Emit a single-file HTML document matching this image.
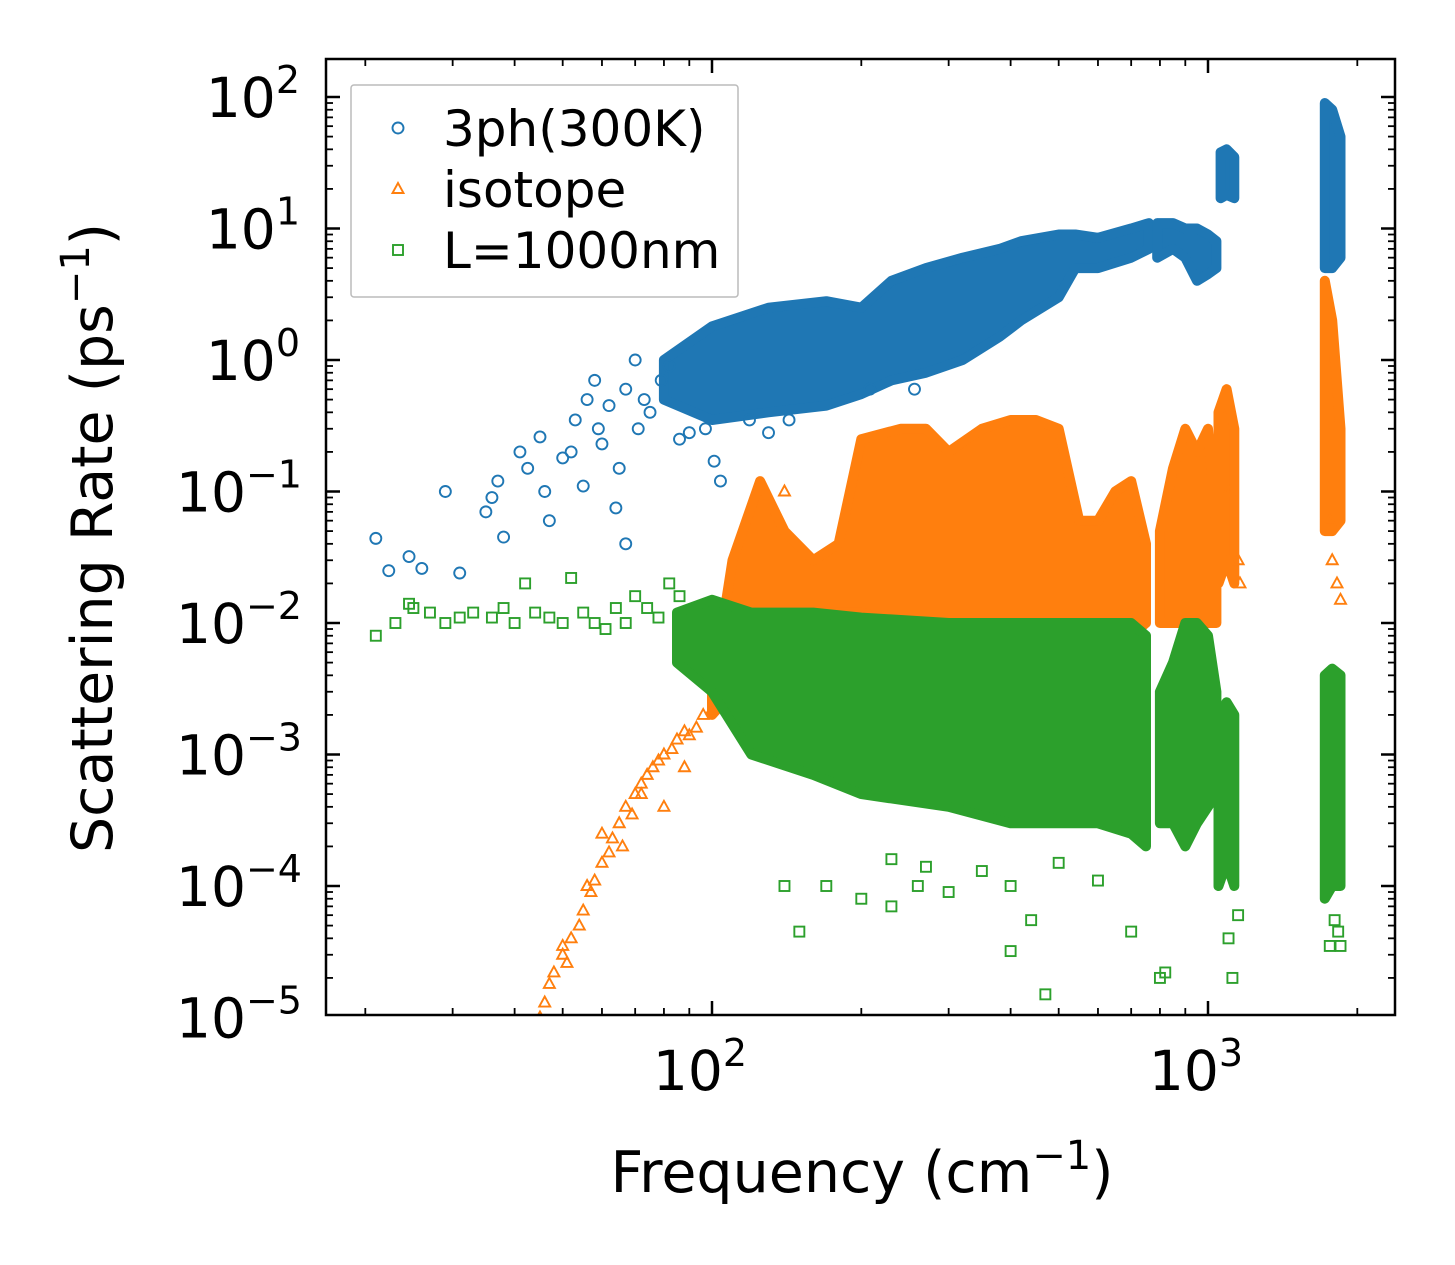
<!DOCTYPE html>
<html><head><meta charset="utf-8"><style>
html,body{margin:0;padding:0;background:#fff;}
svg{display:block;font-family:"DejaVu Sans","Liberation Sans",sans-serif;}
</style></head><body>
<svg id="chart" width="1455" height="1265" viewBox="0 0 1455 1265" xmlns="http://www.w3.org/2000/svg">
<rect x="0" y="0" width="1455" height="1265" fill="#fff"/>
<g id="bands"></g><g id="marks"></g><g id="axes"></g>
</svg>
<script>
// ---- data ----
const blueSparseF=[21,22.3,24.5,26,29,31,35,36,37,38,41,42.5,45,46,50,52,53,56,58,59,62,65,67,70,71,75,79,86,90,97,101,104,119,130,143,208,256,67,64,47,55,60,73,82];
const blueSparseV=[0.044,0.025,0.032,0.026,0.1,0.024,0.07,0.09,0.12,0.045,0.2,0.15,0.26,0.1,0.18,0.2,0.35,0.5,0.7,0.3,0.45,0.15,0.6,1.0,0.3,0.4,0.7,0.25,0.28,0.3,0.17,0.12,0.35,0.28,0.35,0.6,0.6,0.04,0.075,0.06,0.11,0.23,0.5,0.9];
const blueBandF=[[80,100,130,170,200,230,270,320,380,420,500,540,600,700,760],[790,850,900,950,1000,1040],[1060,1090,1130],[1720,1780,1850]];
const blueBandLo=[[0.5,0.35,0.4,0.45,0.55,0.7,0.8,1,1.5,2,3,5,5,6,7],[6,7,6,4,4.5,5],[17,18,17],[5,5,6]];
const blueBandHi=[[1.0,1.8,2.5,2.8,2.5,4,5,6,7,8,9,9,8.5,10,11],[11,11,10,10,9,8],[38,40,35],[90,80,50]];

const orangeSparseF=[45,46,47,48,50,51,52,54,55,57,58,60,62,63,65,67,69,70,72,74,76,78,80,83,85,88,90,93,96,100,50,56,60,66,72,80,88,140,1100,1150,1160,1760,1780,1820,1850];
const orangeSparseV=[1e-5,1.3e-5,1.8e-5,2.2e-5,3e-5,2.6e-5,4e-5,5e-5,6.5e-5,9e-5,1.1e-4,1.5e-4,1.8e-4,2.3e-4,3e-4,4e-4,3.5e-4,5e-4,6e-4,7e-4,8e-4,9e-4,1e-3,1.1e-3,1.3e-3,1.5e-3,1.4e-3,1.6e-3,2e-3,2.2e-3,3.5e-5,1e-4,2.5e-4,2e-4,5e-4,4e-4,8e-4,0.1,0.1,0.03,0.02,0.06,0.03,0.02,0.015];
const orangeBandF=[[100,110,125,140,160,180,200,240,270,300,350,400,450,500,550,600,650,700,750],[800,850,900,950,1000,1040],[1050,1090,1130],[1720,1780,1850]];
const orangeBandLo=[[2e-3,3e-3,0.008,0.01,0.012,0.012,0.012,0.01,0.01,0.01,0.006,0.008,0.01,0.01,0.01,0.005,0.008,0.008,0.01],[0.01,0.01,0.01,0.01,0.01,0.01],[0.02,0.03,0.02],[0.05,0.05,0.06]];
const orangeBandHi=[[3e-3,0.03,0.12,0.05,0.03,0.04,0.25,0.3,0.3,0.2,0.3,0.35,0.35,0.3,0.06,0.06,0.1,0.12,0.04],[0.05,0.15,0.3,0.2,0.3,0.05],[0.4,0.6,0.3],[4,2,0.3]];

const greenSparseF=[21,23,24.5,25,27,29,31,33,36,38,40,42,44,47,50,52,55,58,61,64,67,70,74,78,82,86,140,150,170,200,230,260,300,400,440,470,600,700,800,820,1100,1120,1150,1760,1800,1830,1850,400,500,350,270,230];
const greenSparseV=[0.008,0.01,0.014,0.013,0.012,0.01,0.011,0.012,0.011,0.013,0.01,0.02,0.012,0.011,0.01,0.022,0.012,0.01,0.009,0.013,0.01,0.016,0.013,0.011,0.02,0.016,1e-4,4.5e-5,1e-4,8e-5,7e-5,1e-4,9e-5,3.2e-5,5.5e-5,1.5e-5,1.1e-4,4.5e-5,2e-5,2.2e-5,4e-5,2e-5,6e-5,3.5e-5,5.5e-5,4.5e-5,3.5e-5,1e-4,1.5e-4,1.3e-4,1.4e-4,1.6e-4];
const greenBandF=[[85,100,120,160,200,300,400,500,600,700,750],[800,850,900,950,1000,1040],[1050,1090,1130],[1720,1780,1850]];
const greenBandLo=[[0.005,0.003,0.001,7e-4,5e-4,4e-4,3e-4,3e-4,3e-4,2.5e-4,2e-4],[3e-4,3e-4,2e-4,3e-4,4e-4,5e-4],[1e-4,1.5e-4,1e-4],[8e-5,1e-4,1e-4]];
const greenBandHi=[[0.012,0.015,0.012,0.012,0.011,0.01,0.01,0.01,0.01,0.01,0.008],[0.003,0.005,0.01,0.01,0.008,0.003],[0.002,0.0025,0.002],[0.004,0.0045,0.004]];

const xMajor=[100,1000];
const xMajorLab=["2","3"];
const yMajor=[2,1,0,-1,-2,-3,-4,-5];

// ---- axes ----
const X0=326,X1=1395,Y0=59,Y1=1015;
function fx(f){return 712+496*(Math.log10(f)-2);}
function fy(v){return 97+131.5*(2-Math.log10(v));}
const NS="http://www.w3.org/2000/svg";
function mk(tag,attrs,parent){const e=document.createElementNS(NS,tag);for(const k in attrs)e.setAttribute(k,attrs[k]);parent.appendChild(e);return e;}
const bands=document.getElementById('bands'),marks=document.getElementById('marks'),axes=document.getElementById('axes');
const clip=mk('clipPath',{id:'pc'},document.getElementById('chart'));
mk('rect',{x:X0,y:Y0,width:X1-X0,height:Y1-Y0},clip);
bands.setAttribute('clip-path','url(#pc)');marks.setAttribute('clip-path','url(#pc)');

function drawBands(F,L,H,col,name){
  for(let s=0;s<F.length;s++){
    let pts=[];
    for(let i=0;i<F[s].length;i++)pts.push(fx(F[s][i]).toFixed(1)+','+fy(H[s][i]).toFixed(1));
    for(let i=F[s].length-1;i>=0;i--)pts.push(fx(F[s][i]).toFixed(1)+','+fy(L[s][i]).toFixed(1));
    const p=mk('polygon',{points:pts.join(' '),fill:col,stroke:col,'stroke-width':10,'stroke-linejoin':'round'},bands);
    
    
  }
}
function marker(type,x,y,col,parent){
  let e;
  if(type==='o')e=mk('circle',{cx:x,cy:y,r:5.5,fill:'none',stroke:col,'stroke-width':1.9},parent);
  else if(type==='^')e=mk('polygon',{points:`${x},${y-6} ${x-5.5},${y+4} ${x+5.5},${y+4}`,fill:'none',stroke:col,'stroke-width':1.9},parent);
  else e=mk('rect',{x:x-5,y:y-5,width:10,height:10,fill:'none',stroke:col,'stroke-width':1.9},parent);
  return e;
}
function drawSparse(F,V,type,col,name){
  for(let i=0;i<F.length;i++){
    const e=marker(type,fx(F[i]),fy(V[i]),col,marks);
    
    
  }
}
const B='#1f77b4',O='#ff7f0e',G='#2ca02c';
drawBands(blueBandF,blueBandLo,blueBandHi,B,'3ph');
drawSparse(blueSparseF,blueSparseV,'o',B,'3ph');
drawBands(orangeBandF,orangeBandLo,orangeBandHi,O,'isotope');
drawSparse(orangeSparseF,orangeSparseV,'^',O,'isotope');
drawBands(greenBandF,greenBandLo,greenBandHi,G,'boundary');
drawSparse(greenSparseF,greenSparseV,'s',G,'boundary');

const fr=mk('rect',{x:X0,y:Y0,width:X1-X0,height:Y1-Y0,fill:'none',stroke:'#000','stroke-width':2.5},axes);

for(let d=1;d<=3;d++)for(let m=1;m<10;m++){
  const f=m*Math.pow(10,d);const x=fx(f);if(x<X0||x>X1)continue;
  const L=m===1?14:7;
  mk('line',{x1:x,y1:Y1,x2:x,y2:Y1-L,stroke:'#000','stroke-width':m===1?2.5:1.8},axes);
  mk('line',{x1:x,y1:Y0,x2:x,y2:Y0+L,stroke:'#000','stroke-width':m===1?2.5:1.8},axes);
}
xMajor.forEach((f,i)=>{
  const t=mk('text',{x:fx(f)-12,y:1090,'font-size':55,'text-anchor':'middle',fill:'#000'},axes);
  
  t.innerHTML='10<tspan dy="-24" font-size="38">'+xMajorLab[i]+'</tspan>';
});
for(let d=-5;d<=2;d++)for(let m=1;m<10;m++){
  const v=m*Math.pow(10,d);const y=fy(v);if(y<Y0||y>Y1+1)continue;
  const L=m===1?14:7;
  mk('line',{x1:X0,y1:y,x2:X0+L,y2:y,stroke:'#000','stroke-width':m===1?2.5:1.8},axes);
  mk('line',{x1:X1,y1:y,x2:X1-L,y2:y,stroke:'#000','stroke-width':m===1?2.5:1.8},axes);
}
yMajor.forEach(e=>{
  const t=mk('text',{x:e<0?302:300,y:fy(Math.pow(10,e))+20,'font-size':55,'text-anchor':'end',fill:'#000'},axes);
  
  const s=e<0?'\u2212'+(-e):''+e;
  t.innerHTML='10<tspan dy="-24" font-size="38">'+s+'</tspan>';
});
const xt=mk('text',{x:862,y:1192,'font-size':57,'text-anchor':'middle',fill:'#000'},axes);

xt.innerHTML='Frequency (cm<tspan dy="-23" font-size="40">\u22121</tspan><tspan dy="23">)</tspan>';
const yt=mk('text',{x:0,y:0,'font-size':57,'text-anchor':'middle',fill:'#000',transform:'translate(112,538) rotate(-90)'},axes);

yt.innerHTML='Scattering Rate (ps<tspan dy="-23" font-size="40">\u22121</tspan><tspan dy="23">)</tspan>';
const lg=mk('g',{},axes);

mk('rect',{x:351,y:85,width:387,height:212,fill:'#fff',stroke:'#bbb','stroke-width':1.5,rx:3},lg);
const labs=['3ph(300K)','isotope','L=1000nm'],types=['o','^','s'],cols=[B,O,G];
labs.forEach((l,i)=>{
  const y=128+i*61;
  const g=mk('g',{},lg);
  
  marker(types[i],398,y,cols[i],g);
  const t=mk('text',{x:443,y:y+18,'font-size':50,fill:'#000'},g);t.textContent=l;
});
</script>
</body></html>
